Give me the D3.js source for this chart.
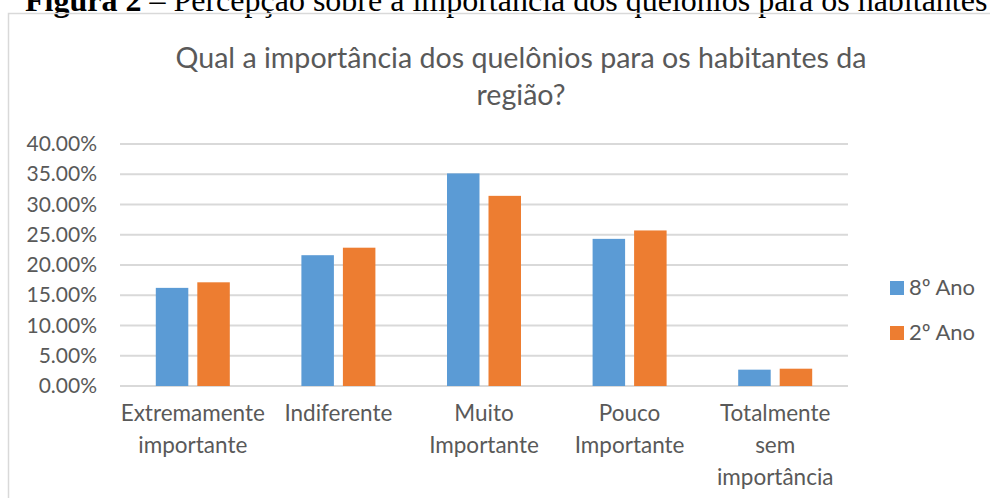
<!DOCTYPE html>
<html>
<head>
<meta charset="utf-8">
<script src="https://cdn.jsdelivr.net/npm/d3@7"></script>
<style>
  html, body { margin: 0; padding: 0; background: #fff; overflow: hidden; }
  text { font-family: Lato, "Open Sans", sans-serif; fill: #595959; }
</style>
</head>
<body>
<div id="chart"></div>
<script>
// data
var categories = ["Extremamente importante", "Indiferente", "Muito Importante", "Pouco Importante", "Totalmente sem importância"];
var categoryLines = [["Extremamente", "importante"], ["Indiferente"], ["Muito", "Importante"], ["Pouco", "Importante"], ["Totalmente", "sem", "importância"]];
var seriesNames = ["8º Ano", "2º Ano"];
var ano8 = [0.1622, 0.2162, 0.3514, 0.2432, 0.0270];
var ano2 = [0.1714, 0.2286, 0.3143, 0.2571, 0.0286];
var yTicks = [0, 0.05, 0.10, 0.15, 0.20, 0.25, 0.30, 0.35, 0.40];
var colors = ["#5B9BD5", "#ED7D31"];

draw();

function draw() {
  var width = 990, height = 498;
  var mLeft = 120, mRight = 848, mTop = 144, mBottom = 386;

  var svg = d3.select("#chart").append("svg")
    .attr("width", width)
    .attr("height", height);

  // caption above the chart box (cut off at top)
  var cap = svg.append("text")
    .attr("x", 25).attr("y", 11)
    .style("font-family", "'Liberation Serif', 'Times New Roman', serif")
    .style("font-size", "32px")
    .style("fill", "#000");
  cap.append("tspan").style("font-weight", "bold").text("Figura 2");
  cap.append("tspan").text(" – Percepção sobre a importância dos quelônios para os habitantes");

  // chart border
  svg.append("rect")
    .attr("x", 8.5).attr("y", 13.5)
    .attr("width", 1100).attr("height", 600)
    .attr("fill", "none")
    .attr("stroke", "#d9d9d9")
    .attr("stroke-width", 1.5);

  // title
  var title = svg.append("text")
    .attr("text-anchor", "middle")
    .style("font-size", "28.6px");
  title.append("tspan").attr("x", 521).attr("y", 68).text("Qual a importância dos quelônios para os habitantes da");
  title.append("tspan").attr("x", 521).attr("y", 105).text("região?");

  var y = d3.scaleLinear().domain([0, 0.4]).range([mBottom, mTop]);

  var x0 = d3.scaleBand().domain(categories).range([mLeft, mRight]).padding(0);
  var groupW = 74;
  var off = (x0.bandwidth() - groupW) / 2;
  var x1 = d3.scaleBand().domain(seriesNames).range([off, off + groupW]).paddingInner(0.217);

  // gridlines
  svg.append("g").selectAll("line")
    .data(yTicks)
    .join("line")
    .attr("x1", mLeft).attr("x2", mRight)
    .attr("y1", d => y(d)).attr("y2", d => y(d))
    .attr("stroke", "#d9d9d9")
    .attr("stroke-width", 2);

  // y axis labels
  var yAxis = svg.append("g")
    .attr("transform", "translate(" + (mLeft - 11) + ",0)")
    .call(d3.axisLeft(y).tickValues(yTicks).tickFormat(d3.format(".2%")).tickSize(0).tickPadding(12));
  yAxis.select(".domain").remove();
  yAxis.selectAll("text")
    .style("font-size", "21px")
    .style("font-family", "Lato, sans-serif")
    .attr("fill", "#595959");

  // bars
  var rows = categories.map((c, i) => ({ cat: c, vals: [ano8[i], ano2[i]] }));
  var groups = svg.append("g").selectAll("g")
    .data(rows)
    .join("g")
    .attr("transform", d => "translate(" + x0(d.cat) + ",0)");
  groups.selectAll("rect")
    .data(d => d.vals.map((v, j) => ({ name: seriesNames[j], v: v, j: j })))
    .join("rect")
    .attr("x", d => x1(d.name))
    .attr("width", x1.bandwidth())
    .attr("y", d => y(d.v))
    .attr("height", d => y(0) - y(d.v))
    .attr("fill", d => colors[d.j]);

  // x labels
  var xl = svg.append("g").selectAll("text")
    .data(categories)
    .join("text")
    .attr("text-anchor", "middle")
    .style("font-size", "22.5px");
  xl.each(function (d, i) {
    var cx = x0(d) + x0.bandwidth() / 2;
    d3.select(this).selectAll("tspan")
      .data(categoryLines[i])
      .join("tspan")
      .attr("x", cx)
      .attr("y", (t, k) => 421 + k * 32)
      .text(t => t);
  });

  // legend
  var leg = svg.append("g").selectAll("g")
    .data(seriesNames)
    .join("g")
    .attr("transform", (d, i) => "translate(890," + (281 + i * 45) + ")");
  leg.append("rect")
    .attr("width", 14).attr("height", 14)
    .attr("fill", (d, i) => colors[i]);
  leg.append("text")
    .attr("x", 19).attr("y", 14)
    .style("font-size", "22px")
    .text(d => d);
}
</script>
</body>
</html>
